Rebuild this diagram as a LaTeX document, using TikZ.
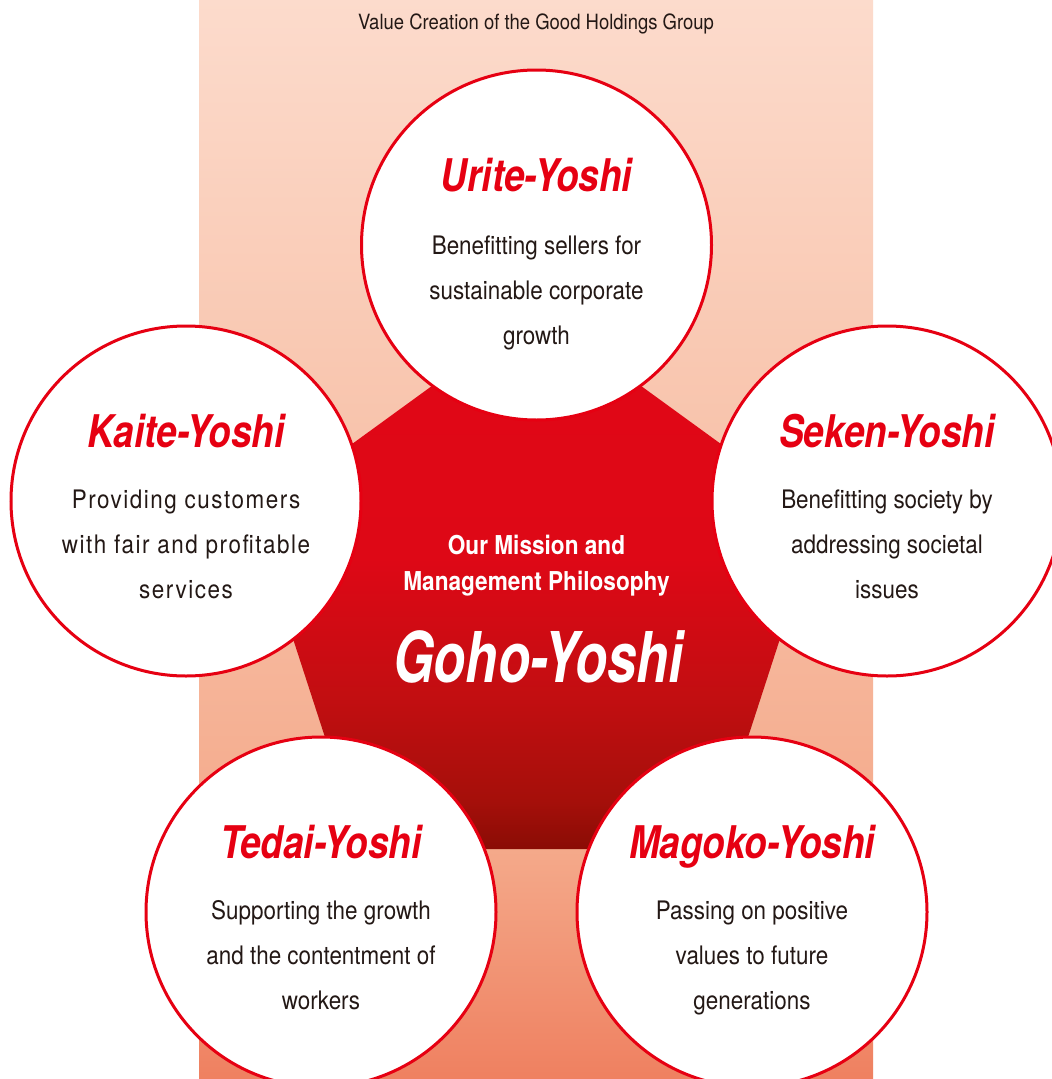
\documentclass[tikz,border=0pt]{standalone}
\usepackage{fontspec}
\usetikzlibrary{shapes.geometric}
\setmainfont{TeX Gyre Heros}[FakeStretch=0.88]
\newfontfamily\titlefont{TeX Gyre Heros}[FakeStretch=0.82]
\newfontfamily\gohofont{TeX Gyre Heros}[FakeStretch=0.75]
\newfontfamily\missionfont{TeX Gyre Heros}[FakeStretch=0.87]
\newfontfamily\spacedfont{TeX Gyre Heros}[FakeStretch=0.88,LetterSpace=6]

\definecolor{brand}{HTML}{E60012}
\definecolor{ink}{HTML}{231815}
% pentagon: bright red fading to deep red at the bottom
\definecolor{pA}{HTML}{8A0C05}
\definecolor{pB}{HTML}{A50F0A}
\definecolor{pC}{HTML}{C20E11}
\definecolor{pD}{HTML}{DE0816}
\definecolor{pE}{HTML}{E10716}
% panel: pale peach at the top, salmon at the bottom
\definecolor{bA}{HTML}{EF8060}
\definecolor{bB}{HTML}{F4A98A}
\definecolor{bC}{HTML}{F8C3AB}
\definecolor{bD}{HTML}{FCDBCC}

\pgfdeclareverticalshading{pentshade}{100bp}{color(0bp)=(pA); color(25bp)=(pA); color(29.5bp)=(pB); color(39bp)=(pC); color(52bp)=(pD); color(75bp)=(pE); color(100bp)=(pE)}
\pgfdeclareverticalshading{panelshade}{100bp}{color(0bp)=(bA); color(25bp)=(bA); color(35.6bp)=(bB); color(54.1bp)=(bC); color(75bp)=(bD); color(100bp)=(bD)}

\tikzset{
  bubble/.style={circle, draw=brand, line width=3pt, fill=white, minimum size=350pt, inner sep=0pt},
  yoshi/.style={anchor=base, inner sep=0pt, text=brand, font=\titlefont\bfseries\itshape\fontsize{45}{45}\selectfont},
  blurb/.style={anchor=base, inner sep=0pt, align=center, text=ink, font=\fontsize{25.5}{45}\selectfont},
  wideblurb/.style={blurb, font=\spacedfont\fontsize{25.5}{45}\selectfont},
}

\begin{document}
\begin{tikzpicture}[x=1pt,y=-1pt]
\useasboundingbox (0,0) rectangle (1052,1079);
\clip (0,0) rectangle (1052,1079);
\fill[white] (0,0) rectangle (1052,1079);

% shaded panel behind the diagram
\node[rectangle, inner sep=0pt, minimum width=674pt, minimum height=1081pt, shading=panelshade] (panel) at (536,539.5) {};
\node[anchor=base, inner sep=0pt, text=ink, font=\fontsize{21}{21}\selectfont] (heading) at (536,29) {Value Creation of the Good Holdings Group};

% central pentagon
\node[regular polygon, regular polygon sides=5, minimum size=596pt, inner sep=0pt, shading=pentshade] (goho) at (536.5,608) {};

% the five circles
\node[bubble] (urite) at (536.5,245) {};
\node[bubble] (kaite) at (186,501) {};
\node[bubble] (seken) at (887,501) {};
\node[bubble] (tedai) at (321,912) {};
\node[bubble] (magoko) at (752,912) {};

% centre text (base anchor sits on the last line)
\node[anchor=base, inner sep=0pt, align=center, text=white, font=\missionfont\bfseries\fontsize{26}{36}\selectfont] (mission) at (536.5,590) {Our Mission and\\Management Philosophy};
\node[anchor=base, inner sep=0pt, text=white, font=\gohofont\bfseries\itshape\fontsize{70}{70}\selectfont] (gohotitle) at (538,682) {Goho-Yoshi};

% circle titles
\node[yoshi] (urite-t) at ([yshift=54pt]urite.center) {Urite-Yoshi};
\node[yoshi] (kaite-t) at ([yshift=54pt]kaite.center) {Kaite-Yoshi};
\node[yoshi] (seken-t) at ([yshift=54pt]seken.center) {Seken-Yoshi};
\node[yoshi] (tedai-t) at ([yshift=54pt]tedai.center) {Tedai-Yoshi};
\node[yoshi] (magoko-t) at ([yshift=54pt]magoko.center) {Magoko-Yoshi};

% circle descriptions (base anchor sits on the last line)
\node[blurb] (urite-d) at ([yshift=-99pt]urite.center) {Benefitting sellers for\\sustainable corporate\\growth};
\node[wideblurb] (kaite-d) at ([yshift=-97pt]kaite.center) {Providing customers\\with fair and profitable\\services};
\node[blurb] (seken-d) at ([yshift=-97pt]seken.center) {Benefitting society by\\addressing societal\\issues};
\node[blurb] (tedai-d) at ([yshift=-97pt]tedai.center) {Supporting the growth\\and the contentment of\\workers};
\node[blurb] (magoko-d) at ([yshift=-97pt]magoko.center) {Passing on positive\\values to future\\generations};
\end{tikzpicture}
\end{document}
